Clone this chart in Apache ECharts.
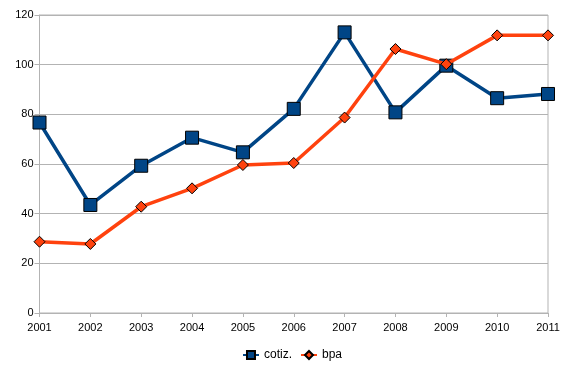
<!DOCTYPE html>
<html><head><meta charset="utf-8">
<script src="https://cdn.jsdelivr.net/npm/echarts@6/dist/echarts.min.js"></script>
<style>html,body{margin:0;padding:0;background:#fff}#c{width:584px;height:380px}</style>
</head><body><div id="c"></div>
<script>
const categories = ['2001','2002','2003','2004','2005','2006','2007','2008','2009','2010','2011'];
const cotiz = [76.7, 43.5, 59.3, 70.6, 64.7, 82.2, 113.0, 80.8, 99.6, 86.5, 88.2];
const bpa = [28.7, 27.8, 42.8, 50.2, 59.6, 60.4, 78.7, 106.3, 100.2, 111.8, 111.8];
const yTicks = [0, 20, 40, 60, 80, 100, 120];

const chart = echarts.init(document.getElementById('c'), null, {renderer: 'canvas'});
const font = 'Liberation Sans';
chart.setOption({
  animation: false,
  grid: {left: 39.5, right: 36, top: 15, bottom: 67, show: true, borderColor: '#b3b3b3', borderWidth: 1, containLabel: false},
  legend: {
    bottom: 14, left: 'center', itemGap: 8, itemWidth: 16, itemHeight: 10,
    textStyle: {fontFamily: font, fontSize: 12, color: '#000'},
    data: ['cotiz.', 'bpa']
  },
  xAxis: {
    type: 'category', data: categories, boundaryGap: false,
    axisLine: {lineStyle: {color: '#b3b3b3', width: 1}},
    axisTick: {show: true, inside: false, length: 4, lineStyle: {color: '#b3b3b3'}},
    axisLabel: {fontFamily: font, fontSize: 11, color: '#000', margin: 9},
    splitLine: {show: false}
  },
  yAxis: {
    type: 'value', min: yTicks[0], max: yTicks[yTicks.length-1], interval: 20,
    axisLine: {show: true, lineStyle: {color: '#b3b3b3', width: 1}},
    axisTick: {show: true, inside: false, length: 5, lineStyle: {color: '#b3b3b3'}},
    axisLabel: {fontFamily: font, fontSize: 11, color: '#000', margin: 6},
    splitLine: {show: true, lineStyle: {color: '#b3b3b3', width: 1}}
  },
  series: [
    {name: 'cotiz.', type: 'line', data: cotiz, symbol: 'rect', symbolSize: 13,
     lineStyle: {color: '#004586', width: 3.5},
     itemStyle: {color: '#004586', borderColor: '#000', borderWidth: 1}, z: 3},
    {name: 'bpa', type: 'line', data: bpa, symbol: 'diamond', symbolSize: 11,
     lineStyle: {color: '#ff420e', width: 3.5},
     itemStyle: {color: '#ff420e', borderColor: '#000', borderWidth: 1}, z: 4}
  ]
});
</script></body></html>
